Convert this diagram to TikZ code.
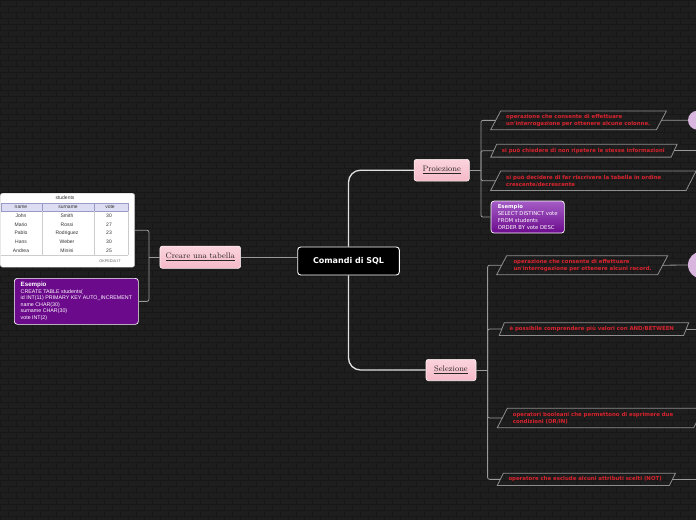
\documentclass[tikz,border=0pt]{standalone}
\usepackage{fontspec}
\newfontfamily\dvs{DejaVu Sans}
\newfontfamily\lib{Liberation Sans}
\usetikzlibrary{calc}
\definecolor{bgc}{HTML}{1E1E1E}
\definecolor{mortar}{HTML}{171717}
\definecolor{redt}{HTML}{D9232E}
\definecolor{plinec}{HTML}{8E8E8E}
\definecolor{brl}{HTML}{9A9A9A}
\definecolor{pinkt}{HTML}{FBD4DE}
\definecolor{pinkb}{HTML}{F5B9C8}
\definecolor{purp}{HTML}{6C0A8C}
\definecolor{purpt}{HTML}{A45CC6}
\definecolor{lav}{HTML}{D8B6DE}
\definecolor{hdr}{HTML}{DCDCF2}
\definecolor{hdrl}{HTML}{9A9AC8}
\begin{document}
\begin{tikzpicture}[x=1pt,y=-1pt,
  br/.style={draw=brl, line width=0.8pt},
  mainline/.style={draw=white!88!black, line width=1.3pt},
  pgbox/.style={anchor=north west, inner sep=0pt},
  pgtext/.style={anchor=west, inner sep=0pt, align=left, text=redt, font=\dvs\bfseries\fontsize{5.4}{7}\selectfont},
  pgline/.style={draw=plinec, line width=0.8pt},
  central/.style={fill=black, draw=white, line width=0.9pt, rounded corners=3pt, text=white, font=\dvs\bfseries\fontsize{8}{9}\selectfont, minimum width=101.6pt, minimum height=28pt, inner sep=0pt},
  topic/.style={rounded corners=2.5pt, draw=white!85!pink, line width=0.6pt, top color=pinkt, bottom color=pinkb, inner sep=0pt, font=\fontsize{8}{9}\selectfont, text=black!85},
  exbox/.style={draw=white, line width=0.7pt, rounded corners=3pt, align=left, text=white, inner sep=0pt},
  tt/.style={inner sep=0pt, font=\lib\fontsize{5}{5.5}\selectfont, text=black!80},
  ball/.style={circle, inner sep=0pt, fill=lav}
]
\path[use as bounding box] (0,0) rectangle (696,520);
\clip (0,0) rectangle (696,520);
% background bricks
\fill[bgc] (0,0) rectangle (696,520);
\foreach \y in {0,6,...,516} \draw[mortar, line width=0.5pt] (0,\y) -- (696,\y);
\foreach \x in {0,16,...,704} \draw[mortar, line width=0.5pt, dash pattern=on 6pt off 6pt] (\x,0) -- (\x,520);
\foreach \x in {8,24,...,696} \draw[mortar, line width=0.5pt, dash pattern=on 6pt off 6pt, dash phase=6pt] (\x,0) -- (\x,520);

% main nodes
\node[central] (root) at (348.5,261) {Comandi di SQL};
\node[topic, minimum width=80.7pt, minimum height=22.3pt] (creare) at (200.3,257.2) {\underline{Creare una tabella}};
\node[topic, minimum width=55.3pt, minimum height=21.7pt] (proj) at (441.7,170.2) {\underline{Proiezione}};
\node[topic, minimum width=50pt, minimum height=21.4pt] (sel) at (451,370) {\underline{Selezione}};

% table picture
\node[fill=white, draw=black!25, rounded corners=2.5pt, anchor=north west, minimum width=134.5pt, minimum height=74pt, inner sep=0pt] (tab) at (0,193) {};
\node[tt] (tabtitle) at (65,198) {students};
\fill[hdr] (1,203) rectangle (127.7,211);
\draw[hdrl, line width=0.4pt] (1,203) rectangle (127.7,211) (41.7,203) -- (41.7,211) (94.3,203) -- (94.3,211);
\draw[black!20, line width=0.3pt] (41.7,211) -- (41.7,255) (94.3,211) -- (94.3,255) (1,255) -- (127.7,255) (127.7,211) -- (127.7,255);
\node[tt] (h1) at (21,207) {name};
\node[tt] (h2) at (68,207) {surname};
\node[tt] (h3) at (110,207) {vote};
\foreach \a/\b/\c/\y in {John/Smith/30/216, Mario/Rossi/27/224.5, Pablo/Rodriguez/23/233.2, Hans/Weber/30/242.2, Andrea/Minini/25/251}{
  \node[tt] at (21,\y) {\a};
  \node[tt] at (67,\y) {\b};
  \node[tt] at (109,\y) {\c};
}
\node[tt, font=\lib\fontsize{3.8}{4}\selectfont, text=black!60] (okp) at (110,261.3) {OKPEDIA.IT};

% esempio 1
\node[exbox, fill=purp, anchor=north west, minimum width=124pt, minimum height=46pt, font=\lib\fontsize{5.3}{6.45}\selectfont] (ex1) at (14,278)
  {{\bfseries\fontsize{6.2}{7}\selectfont Esempio}\\CREATE TABLE students(\\id INT(11) PRIMARY KEY AUTO\_INCREMENT\\name CHAR(30)\\surname CHAR(30)\\vote INT(2)};

% esempio 2
\node[exbox, top color=purpt, bottom color=purp, anchor=north west, minimum width=73.3pt, minimum height=32pt, font=\dvs\fontsize{5.3}{6.7}\selectfont] (ex2) at (490.7,200.7)
  {{\bfseries Esempio}\\SELECT DISTINCT vote\\FROM students\\ORDER BY vote DESC};

% parallelogram boxes
\node[pgbox, minimum width=175.3pt, minimum height=18.3pt] (pp1) at (490.7,111) {};
\node[pgtext] (pp1t) at ([xshift=15.3pt]pp1.west) {operazione che consente di effettuare\\un'interrogazione per ottenere alcune colonne.};
\node[pgbox, minimum width=186pt, minimum height=12.4pt] (pp2) at (490.7,144.3) {};
\node[pgtext] (pp2t) at ([xshift=11pt]pp2.west) {si può chiedere di non ripetere le stesse informazioni};
\node[pgbox, minimum width=205pt, minimum height=19pt] (pp3) at (490.7,171) {};
\node[pgtext] (pp3t) at ([xshift=15.3pt]pp3.west) {si può decidere di far riscrivere la tabella in ordine\\crescente/decrescente};

\node[pgbox, minimum width=170.6pt, minimum height=18.6pt] (sp1) at (496.7,255.7) {};
\node[pgtext] (sp1t) at ([xshift=16.6pt]sp1.west) {operazione che consente di effettuare\\un'interrogazione per ottenere alcuni record.};
\node[pgbox, minimum width=189pt, minimum height=12.3pt] (sp2) at (499.3,322.7) {};
\node[pgtext] (sp2t) at ([xshift=10pt]sp2.west) {è possibile comprendere più valori con AND/BETWEEN};
\node[pgbox, minimum width=206pt, minimum height=19pt] (sp3) at (497.3,408.3) {};
\node[pgtext] (sp3t) at ([xshift=15.4pt]sp3.west) {operatori booleani che permettono di esprimere due\\condizioni (OR/IN)};
\node[pgbox, minimum width=177.7pt, minimum height=11.7pt] (sp4) at (497.3,473.3) {};
\node[pgtext] (sp4t) at ([xshift=11pt]sp4.west) {operatore che esclude alcuni attributi scelti (NOT)};

\foreach \n/\s in {pp1/10,pp2/6,pp3/10,sp1/10,sp2/5,sp3/10,sp4/6}
  \draw[pgline] ([xshift=\s pt]\n.north west) -- (\n.north east) -- ([xshift=-\s pt]\n.south east) -- (\n.south west) -- cycle;

% balls
\node[ball, minimum size=19pt] (c1) at (697.5,120.2) {};
\node[ball, minimum size=27pt] (c2) at (701.5,265) {};
\coordinate (rim) at (700,0);

% connectors
\draw[mainline, rounded corners=12pt] (root.north) |- (proj.west);
\draw[mainline, rounded corners=12pt] (root.south) |- (sel.west);
\draw[br] (creare.east) -- (creare.east -| root.west);

\coordinate (cj) at ([xshift=-10.7pt]creare.west);
\draw[br] (creare.west) -- (cj);
\draw[br, rounded corners=2pt] (cj) |- (tab.east);
\draw[br, rounded corners=2pt] (cj) |- (ex1.east);

\coordinate (pj) at ([xshift=11.3pt]proj.east);
\draw[br] (proj.east) -- (pj);
\draw[br, rounded corners=2pt] (pj) |- ([xshift=5pt]pp1.west);
\draw[br, rounded corners=2pt] (pj) |- ([xshift=3pt]pp2.west);
\draw[br, rounded corners=2pt] (pj) |- ([xshift=5pt]pp3.west);
\draw[br, rounded corners=2pt] (pj) |- (ex2.west);

\coordinate (sj) at ([xshift=11.3pt]sel.east);
\draw[br] (sel.east) -- (sj);
\draw[br, rounded corners=2pt] (sj) |- ([xshift=5pt]sp1.west);
\draw[br, rounded corners=2pt] (sj) |- ([xshift=2.5pt]sp2.west);
\draw[br, rounded corners=2pt] (sj) |- ([xshift=5pt]sp3.west);
\draw[br, rounded corners=2pt] (sj) |- ([xshift=3pt]sp4.west);

\draw[br] ([xshift=-5pt]pp1.east) -- (c1.west);
\draw[br] ([xshift=-3pt]pp2.east) -- (pp2.east -| rim);
\draw[br] ([xshift=-5pt]sp1.east) -- (c2.west);
\draw[br] ([xshift=-2.5pt]sp2.east) -- (sp2.east -| rim);
\draw[br] ([xshift=-3pt]sp4.east) -- (sp4.east -| rim);
\end{tikzpicture}
\end{document}
